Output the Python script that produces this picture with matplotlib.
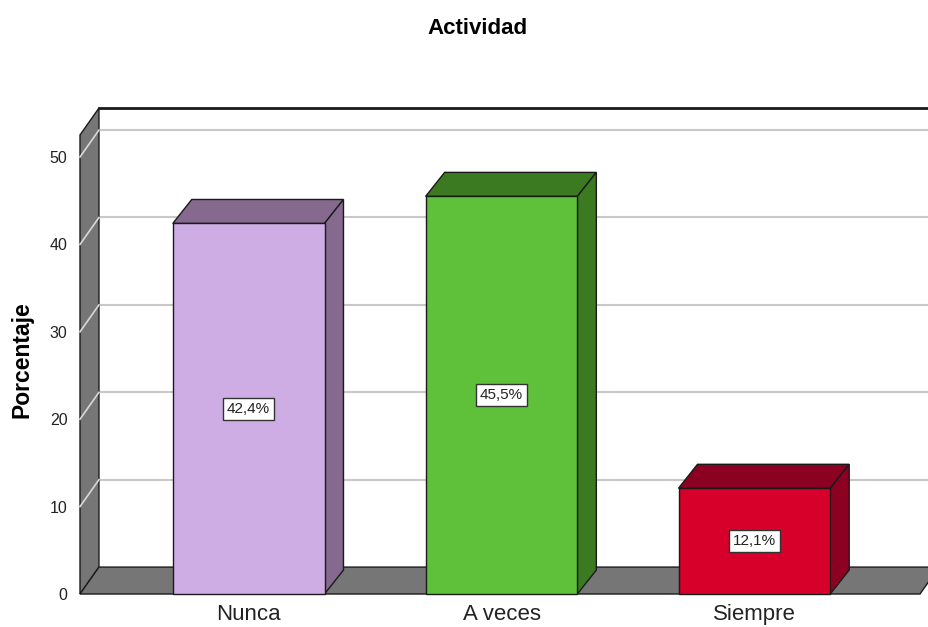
import matplotlib.pyplot as plt
from matplotlib.patches import Polygon

plt.rcParams['font.family'] = ['Liberation Sans', 'DejaVu Sans']

categories = ['Nunca', 'A veces', 'Siempre']
percentages = [42.4, 45.5, 12.1]
value_labels = ['42,4%', '45,5%', '12,1%']
front_colors = ['#CEADE4', '#5FC13A', '#D6002B']
side_colors = ['#85698F', '#3C7A22', '#8C0022']

fig = plt.figure(figsize=(9.29, 6.27), dpi=100)
ax = fig.add_axes([80 / 929, 33 / 627, 840 / 929, 437 / 627])
x0, x1 = -0.667, 2.655
ax.set_xlim(x0, x1)
ax.set_ylim(0, 50)

# 3D offsets (data units)
wdx, wdy = 0.075, 3.08   # walls
bdx, bdy = 0.075, 2.74   # bars
wall_top = 55.6
wall_gray = '#767676'
edge = '#1a1a1a'

def poly(pts, fc, z, lw=1.0, ec=edge):
    ax.add_patch(Polygon(pts, closed=True, facecolor=fc, edgecolor=ec,
                         linewidth=lw, zorder=z, clip_on=False))

# back wall
poly([(x0 + wdx, wdy), (x1 + wdx + 0.2, wdy), (x1 + wdx + 0.2, wall_top),
      (x0 + wdx, wall_top)], 'white', 1, lw=0)
ax.plot([x0 + wdx, x1 + 0.3], [wall_top, wall_top], color=edge, lw=2,
        zorder=2, clip_on=False)
for v in range(10, 51, 10):
    ax.plot([x0 + wdx, x1 + 0.3], [v + wdy, v + wdy], color='#c8c8c8',
            lw=1.5, zorder=1.5, clip_on=False)

# left wall
poly([(x0, 0), (x0 + wdx, wdy), (x0 + wdx, wall_top), (x0, wall_top - wdy)],
     wall_gray, 3)
for v in range(10, 51, 10):
    ax.plot([x0, x0 + wdx], [v, v + wdy], color='#d8d8d8', lw=1.2,
            zorder=3.5, clip_on=False)

# floor
poly([(x0, 0), (x1, 0), (x1 + wdx, wdy), (x0 + wdx, wdy)], wall_gray, 3)

# bars
w = 0.6
for i, (v, fc, sc, lab) in enumerate(zip(percentages, front_colors,
                                         side_colors, value_labels)):
    l, r = i - w / 2, i + w / 2
    poly([(l, v), (r, v), (r + bdx, v + bdy), (l + bdx, v + bdy)], sc, 5)
    poly([(r, 0), (r + bdx, bdy), (r + bdx, v + bdy), (r, v)], sc, 5)
    poly([(l, 0), (r, 0), (r, v), (l, v)], fc, 6)
    ax.text(i, v / 2, lab, ha='center', va='center', fontsize=11, zorder=8,
            color='#222222',
            bbox=dict(boxstyle='square,pad=0.25', facecolor='white',
                      edgecolor='#333333', linewidth=1))

ax.set_xticks(range(len(categories)))
ax.set_xticklabels(categories, fontsize=16)
ax.set_yticks(range(0, 51, 10))
ax.tick_params(axis='y', length=0, pad=9, labelsize=11.5, colors='#222222')
ax.tick_params(axis='x', length=0, pad=7, colors='#222222')
for s in ax.spines.values():
    s.set_visible(False)
ax.patch.set_alpha(0)

fig.text(478 / 929, 1 - 28 / 627, 'Actividad', ha='center', va='center',
         fontsize=16, fontweight='bold')
fig.text(22 / 929, 1 - 360 / 627, 'Porcentaje', ha='center', va='center',
         rotation=90, fontsize=16.5, fontweight='bold')

fig.savefig('out.png', dpi=100)
